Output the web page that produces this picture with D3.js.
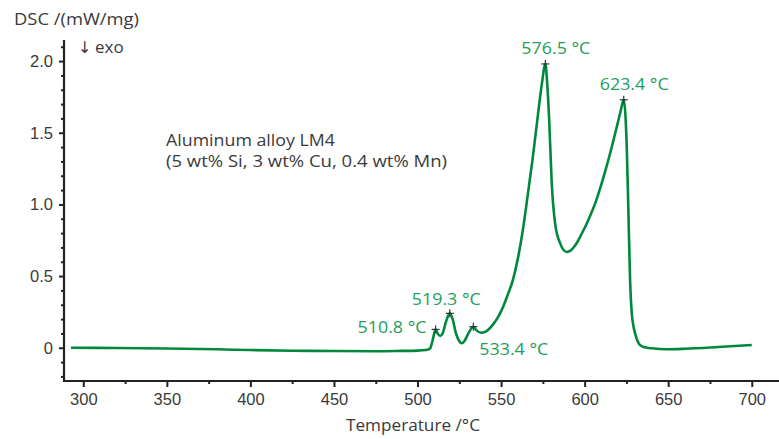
<!DOCTYPE html>
<html>
<head>
<meta charset="utf-8">
<script src="https://cdn.jsdelivr.net/npm/d3@7"></script>
<style>
  html, body { margin: 0; padding: 0; background: #fff; }
  svg { display: block; font-family: "Open Sans", "Noto Sans", sans-serif; }
</style>
</head>
<body>
<svg id="chart" width="779" height="439"></svg>
<script>
// ---- data ----
const temperature = [292.6, 320, 350, 380, 400, 425, 450, 475, 490, 500, 505, 507.5, 509, 510.8, 512, 513.5, 515, 517, 519.3, 521, 523, 525, 526.4, 528, 530, 533.4, 535, 538, 541, 545, 548, 551, 554, 557, 560, 563, 566, 569, 572, 574.5, 576.5, 577.5, 578.7, 580.3, 582.3, 585.3, 589.3, 592, 595, 598, 601, 604, 607, 610, 613, 616, 619, 621.5, 623.4, 624.5, 625.2, 626.2, 627.2, 628.2, 629.2, 630.2, 633, 636, 640, 650, 660, 680, 700];
const dsc = [0.000, -0.002, -0.005, -0.011, -0.016, -0.021, -0.023, -0.024, -0.022, -0.020, -0.016, -0.005, 0.05, 0.128, 0.10, 0.082, 0.10, 0.18, 0.24, 0.20, 0.10, 0.045, 0.031, 0.045, 0.09, 0.147, 0.125, 0.105, 0.115, 0.16, 0.21, 0.28, 0.37, 0.47, 0.62, 0.82, 1.07, 1.33, 1.62, 1.85, 1.98, 1.86, 1.61, 1.15, 0.87, 0.73, 0.668, 0.682, 0.725, 0.79, 0.86, 0.94, 1.03, 1.14, 1.26, 1.39, 1.53, 1.65, 1.73, 1.60, 1.40, 0.94, 0.47, 0.24, 0.15, 0.10, 0.02, 0.003, -0.004, -0.010, -0.007, 0.005, 0.019];

const peakTemps = [510.8, 519.3, 533.4, 576.5, 623.4];
const peakValues = [0.128, 0.24, 0.147, 1.98, 1.73];
const peakLabels = ["510.8 °C", "519.3 °C", "533.4 °C", "576.5 °C", "623.4 °C"];

const xTicks = [300, 350, 400, 450, 500, 550, 600, 650, 700];
const xMinorTicks = [325, 375, 425, 475, 525, 575, 625, 675];
const yTicks = [0, 0.5, 1.0, 1.5, 2.0];
const yMinorTicks = [-0.2, -0.1, 0.1, 0.2, 0.3, 0.4, 0.6, 0.7, 0.8, 0.9, 1.1, 1.2, 1.3, 1.4, 1.6, 1.7, 1.8, 1.9, 2.1];

const xTitle = "Temperature /°C";
const yTitle = "DSC /(mW/mg)";
const exoArrow = "↓";
const exoWord = "exo";
const sampleNote = ["Aluminum alloy LM4", "(5 wt% Si, 3 wt% Cu, 0.4 wt% Mn)"];

// ---- layout ----
const svg = d3.select("#chart");
const axisColor = "#222";
const textColor = "#3a3a3a";
const lineColor = "#00893d";
const labelColor = "#22a05a";

const x = d3.scaleLinear().domain([288.45, 716.3]).range([64, 779]);
const y = d3.scaleLinear().domain([-0.232, 2.147]).range([381, 40]);

// x axis
const gx = svg.append("g").attr("transform", "translate(0,381)");
gx.call(d3.axisBottom(x).tickValues(xMinorTicks).tickSize(3).tickFormat(""));
gx.call(g => g.append("g").call(d3.axisBottom(x).tickValues(xTicks).tickSize(6).tickPadding(6)));
gx.selectAll(".domain").remove();
gx.append("line").attr("x1", 64).attr("x2", 779).attr("stroke", axisColor).attr("stroke-width", 2.2);
gx.selectAll(".tick line").attr("stroke", axisColor).attr("stroke-width", 2);
gx.selectAll(".tick text").attr("fill", textColor).style("font-size", "16.5px");

// y axis
const gy = svg.append("g").attr("transform", "translate(64,0)");
gy.call(d3.axisLeft(y).tickValues(yMinorTicks).tickSize(3).tickFormat(""));
gy.call(g => g.append("g").call(d3.axisLeft(y).tickValues(yTicks).tickSize(5).tickPadding(6)
  .tickFormat(d => d === 0 ? "0" : d3.format(".1f")(d))));
gy.selectAll(".domain").remove();
gy.append("line").attr("y1", 40).attr("y2", 382).attr("stroke", axisColor).attr("stroke-width", 2.2);
gy.selectAll(".tick line").attr("stroke", axisColor).attr("stroke-width", 2);
gy.selectAll(".tick text").attr("fill", textColor).style("font-size", "16.5px");

// titles
svg.append("text").attr("x", 14).attr("y", 25).attr("fill", textColor)
  .style("font-size", "17px").attr("textLength", 125).attr("lengthAdjust", "spacingAndGlyphs").text(yTitle);
svg.append("text").attr("x", 346).attr("y", 431).attr("fill", textColor)
  .style("font-size", "16.5px").attr("textLength", 134).attr("lengthAdjust", "spacingAndGlyphs").text(xTitle);
const exo = svg.append("text").attr("x", 78).attr("y", 53).attr("fill", textColor).style("font-size", "17px");
exo.append("tspan").style("font-family", "'DejaVu Sans'").style("font-size", "16px").attr("fill", textColor).text(exoArrow);
exo.append("tspan").attr("x", 95).text(exoWord);

const noteLens = [169, 281];
svg.append("g").selectAll("text").data(sampleNote).join("text")
  .attr("x", 166).attr("y", (d, i) => 146 + i * 21).attr("fill", textColor)
  .style("font-size", "16px")
  .attr("textLength", (d, i) => noteLens[i]).attr("lengthAdjust", "spacingAndGlyphs")
  .text(d => d);

// curve
const pts = temperature.map((t, i) => [t, dsc[i]]);
const line = d3.line().x(d => x(d[0])).y(d => y(d[1])).curve(d3.curveMonotoneX);
svg.append("path").datum(pts).attr("d", line)
  .attr("fill", "none").attr("stroke", lineColor).attr("stroke-width", 2.6)
  .attr("stroke-linejoin", "round");

// peak markers
const peaks = peakTemps.map((t, i) => ({ t, v: peakValues[i], label: peakLabels[i] }));
const mk = svg.append("g").selectAll("g").data(peaks).join("g")
  .attr("transform", d => `translate(${x(d.t)},${y(d.v)})`);
mk.append("line").attr("x1", -4).attr("x2", 4).attr("stroke", "#333").attr("stroke-width", 1.2);
mk.append("line").attr("y1", -4).attr("y2", 4).attr("stroke", "#333").attr("stroke-width", 1.2);

// peak labels (offsets relative to marker)
const labelOffsets = [[-9, 4, "end"], [-38, -8, "start"], [6, 28, "start"], [-24, -10, "start"], [-24, -10, "start"]];
svg.append("g").selectAll("text").data(peaks).join("text")
  .attr("x", (d, i) => x(d.t) + labelOffsets[i][0])
  .attr("y", (d, i) => y(d.v) + labelOffsets[i][1])
  .attr("text-anchor", (d, i) => labelOffsets[i][2])
  .attr("fill", labelColor).style("font-size", "17px")
  .attr("textLength", 69).attr("lengthAdjust", "spacingAndGlyphs")
  .text(d => d.label);
</script>
</body>
</html>
